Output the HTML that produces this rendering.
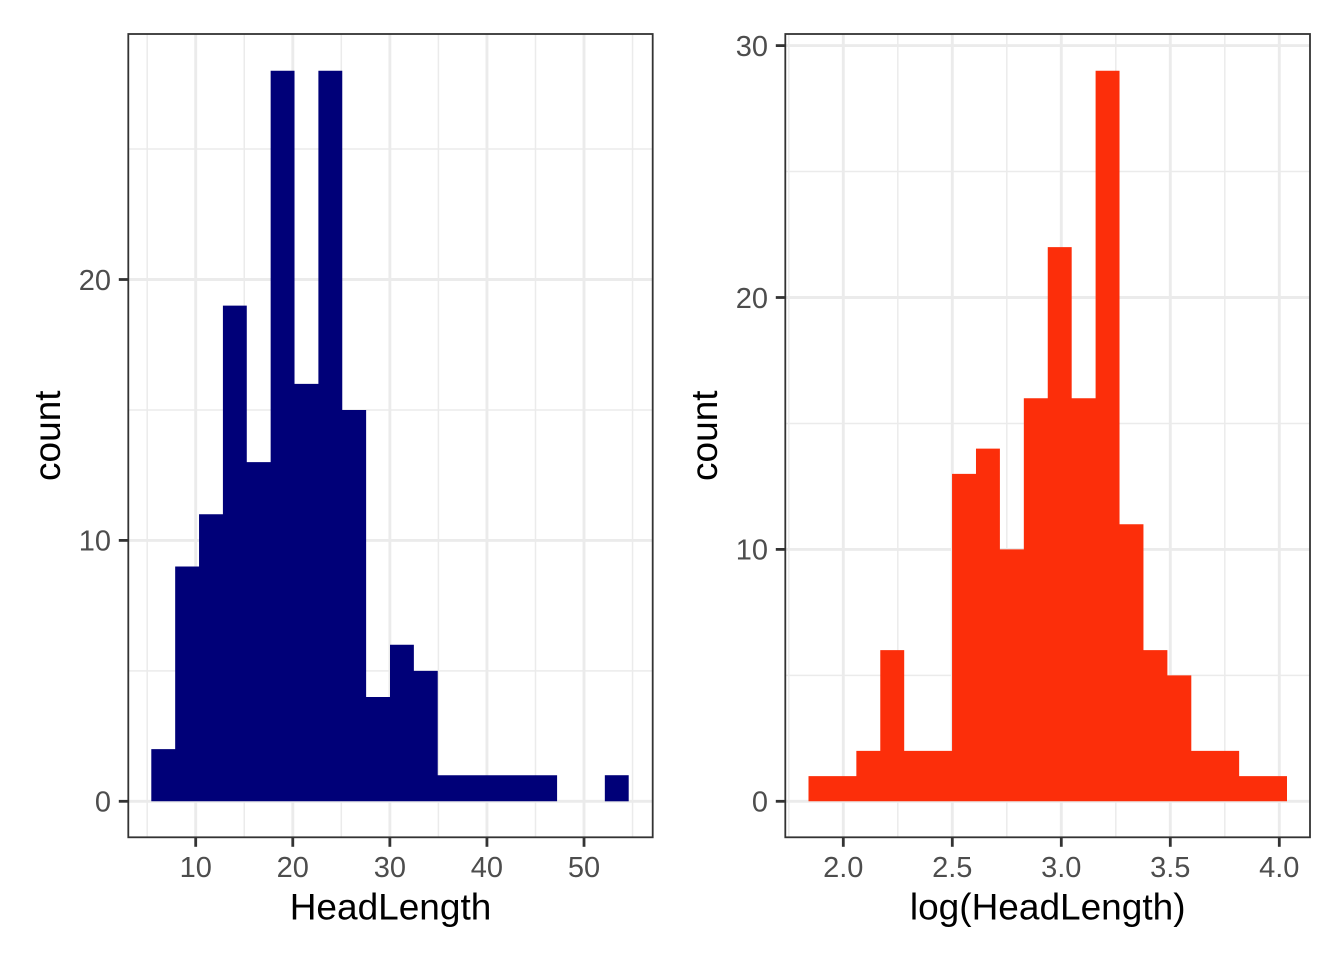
<!DOCTYPE html>
<html>
<head>
<meta charset="utf-8">
<style>
  html, body { margin: 0; padding: 0; background: #ffffff; }
  svg { display: block; }
  text { font-family: "Liberation Sans", Arial, sans-serif; }
</style>
</head>
<body>
<svg width="1344" height="960" viewBox="0 0 1344 960" xmlns="http://www.w3.org/2000/svg">
  <rect x="0" y="0" width="1344" height="960" fill="#ffffff"/>

  <!-- ============ LEFT PANEL ============ -->
  <rect x="128.3" y="34" width="524.4" height="803.3" fill="#ffffff"/>
  <!-- minor grid -->
  <g stroke="#EBEBEB" stroke-width="1.5">
    <line x1="128.3" x2="652.7" y1="670.85" y2="670.85"/>
    <line x1="128.3" x2="652.7" y1="409.95" y2="409.95"/>
    <line x1="128.3" x2="652.7" y1="149.05" y2="149.05"/>
    <line x1="147.16" x2="147.16" y1="34" y2="837.3"/>
    <line x1="244.24" x2="244.24" y1="34" y2="837.3"/>
    <line x1="341.32" x2="341.32" y1="34" y2="837.3"/>
    <line x1="438.4" x2="438.4" y1="34" y2="837.3"/>
    <line x1="535.48" x2="535.48" y1="34" y2="837.3"/>
    <line x1="632.56" x2="632.56" y1="34" y2="837.3"/>
  </g>
  <!-- major grid -->
  <g stroke="#EBEBEB" stroke-width="2.9">
    <line x1="128.3" x2="652.7" y1="801.3" y2="801.3"/>
    <line x1="128.3" x2="652.7" y1="540.4" y2="540.4"/>
    <line x1="128.3" x2="652.7" y1="279.5" y2="279.5"/>
    <line x1="195.7" x2="195.7" y1="34" y2="837.3"/>
    <line x1="292.78" x2="292.78" y1="34" y2="837.3"/>
    <line x1="389.86" x2="389.86" y1="34" y2="837.3"/>
    <line x1="486.94" x2="486.94" y1="34" y2="837.3"/>
    <line x1="584.02" x2="584.02" y1="34" y2="837.3"/>
  </g>
  <!-- bars -->
  <path fill="#000078" d="M151.3,801.3 V749.12 H175.17 V566.49 H199.04 V514.31 H222.91 V305.59 H246.78 V462.13 H270.65 V70.78 H294.52 V383.86 H318.39 V70.78 H342.26 V409.95 H366.13 V696.94 H390 V644.76 H413.87 V670.85 H437.74 V775.21 H557.09 V801.3 Z"/>
  <rect fill="#000078" x="604.83" y="775.21" width="23.87" height="26.09"/>
  <!-- border -->
  <rect x="128.3" y="34" width="524.4" height="803.3" fill="none" stroke="#333333" stroke-width="1.8"/>
  <!-- ticks -->
  <g stroke="#333333" stroke-width="2.8">
    <line x1="118.8" x2="128.3" y1="801.3" y2="801.3"/>
    <line x1="118.8" x2="128.3" y1="540.4" y2="540.4"/>
    <line x1="118.8" x2="128.3" y1="279.5" y2="279.5"/>
    <line x1="195.7" x2="195.7" y1="837.3" y2="846.8"/>
    <line x1="292.78" x2="292.78" y1="837.3" y2="846.8"/>
    <line x1="389.86" x2="389.86" y1="837.3" y2="846.8"/>
    <line x1="486.94" x2="486.94" y1="837.3" y2="846.8"/>
    <line x1="584.02" x2="584.02" y1="837.3" y2="846.8"/>
  </g>
  <!-- tick labels -->
  <g fill="#4D4D4D" font-size="29" text-anchor="end">
    <text x="111" y="811.6">0</text>
    <text x="111" y="550.7">10</text>
    <text x="111" y="289.8">20</text>
  </g>
  <g fill="#4D4D4D" font-size="29" text-anchor="middle">
    <text x="195.7" y="877">10</text>
    <text x="292.78" y="877">20</text>
    <text x="389.86" y="877">30</text>
    <text x="486.94" y="877">40</text>
    <text x="584.02" y="877">50</text>
  </g>
  <!-- axis titles -->
  <text x="390.5" y="919.3" font-size="37" text-anchor="middle" fill="#000000">HeadLength</text>
  <text transform="translate(60,435.7) rotate(-90)" x="0" y="0" font-size="37" text-anchor="middle" fill="#000000">count</text>

  <!-- ============ RIGHT PANEL ============ -->
  <rect x="785.3" y="34" width="524.7" height="803.3" fill="#ffffff"/>
  <!-- minor grid -->
  <g stroke="#EBEBEB" stroke-width="1.5">
    <line x1="785.3" x2="1310" y1="675.35" y2="675.35"/>
    <line x1="785.3" x2="1310" y1="423.45" y2="423.45"/>
    <line x1="785.3" x2="1310" y1="171.55" y2="171.55"/>
    <line x1="788.8" x2="788.8" y1="34" y2="837.3"/>
    <line x1="897.8" x2="897.8" y1="34" y2="837.3"/>
    <line x1="1006.8" x2="1006.8" y1="34" y2="837.3"/>
    <line x1="1115.8" x2="1115.8" y1="34" y2="837.3"/>
    <line x1="1224.8" x2="1224.8" y1="34" y2="837.3"/>
  </g>
  <!-- major grid -->
  <g stroke="#EBEBEB" stroke-width="2.9">
    <line x1="785.3" x2="1310" y1="801.3" y2="801.3"/>
    <line x1="785.3" x2="1310" y1="549.4" y2="549.4"/>
    <line x1="785.3" x2="1310" y1="297.5" y2="297.5"/>
    <line x1="785.3" x2="1310" y1="45.6" y2="45.6"/>
    <line x1="843.3" x2="843.3" y1="34" y2="837.3"/>
    <line x1="952.3" x2="952.3" y1="34" y2="837.3"/>
    <line x1="1061.3" x2="1061.3" y1="34" y2="837.3"/>
    <line x1="1170.3" x2="1170.3" y1="34" y2="837.3"/>
    <line x1="1279.3" x2="1279.3" y1="34" y2="837.3"/>
  </g>
  <!-- bars -->
  <path fill="#FC2E0A" d="M808.5,801.3 V776.11 H856.35 V750.92 H880.28 V650.16 H904.2 V750.92 H952.05 V473.83 H975.98 V448.64 H999.9 V549.4 H1023.83 V398.26 H1047.75 V247.12 H1071.68 V398.26 H1095.6 V70.79 H1119.53 V524.21 H1143.45 V650.16 H1167.38 V675.35 H1191.3 V750.92 H1239.15 V776.11 H1287 V801.3 Z"/>
  <!-- border -->
  <rect x="785.3" y="34" width="524.7" height="803.3" fill="none" stroke="#333333" stroke-width="1.8"/>
  <!-- ticks -->
  <g stroke="#333333" stroke-width="2.8">
    <line x1="775.8" x2="785.3" y1="801.3" y2="801.3"/>
    <line x1="775.8" x2="785.3" y1="549.4" y2="549.4"/>
    <line x1="775.8" x2="785.3" y1="297.5" y2="297.5"/>
    <line x1="775.8" x2="785.3" y1="45.6" y2="45.6"/>
    <line x1="843.3" x2="843.3" y1="837.3" y2="846.8"/>
    <line x1="952.3" x2="952.3" y1="837.3" y2="846.8"/>
    <line x1="1061.3" x2="1061.3" y1="837.3" y2="846.8"/>
    <line x1="1170.3" x2="1170.3" y1="837.3" y2="846.8"/>
    <line x1="1279.3" x2="1279.3" y1="837.3" y2="846.8"/>
  </g>
  <!-- tick labels -->
  <g fill="#4D4D4D" font-size="29" text-anchor="end">
    <text x="768" y="811.6">0</text>
    <text x="768" y="559.7">10</text>
    <text x="768" y="307.8">20</text>
    <text x="768" y="55.9">30</text>
  </g>
  <g fill="#4D4D4D" font-size="29" text-anchor="middle">
    <text x="843.3" y="877">2.0</text>
    <text x="952.3" y="877">2.5</text>
    <text x="1061.3" y="877">3.0</text>
    <text x="1170.3" y="877">3.5</text>
    <text x="1279.3" y="877">4.0</text>
  </g>
  <!-- axis titles -->
  <text x="1047.7" y="919.3" font-size="37" text-anchor="middle" fill="#000000">log(HeadLength)</text>
  <text transform="translate(717,435.7) rotate(-90)" x="0" y="0" font-size="37" text-anchor="middle" fill="#000000">count</text>
</svg>
</body>
</html>
